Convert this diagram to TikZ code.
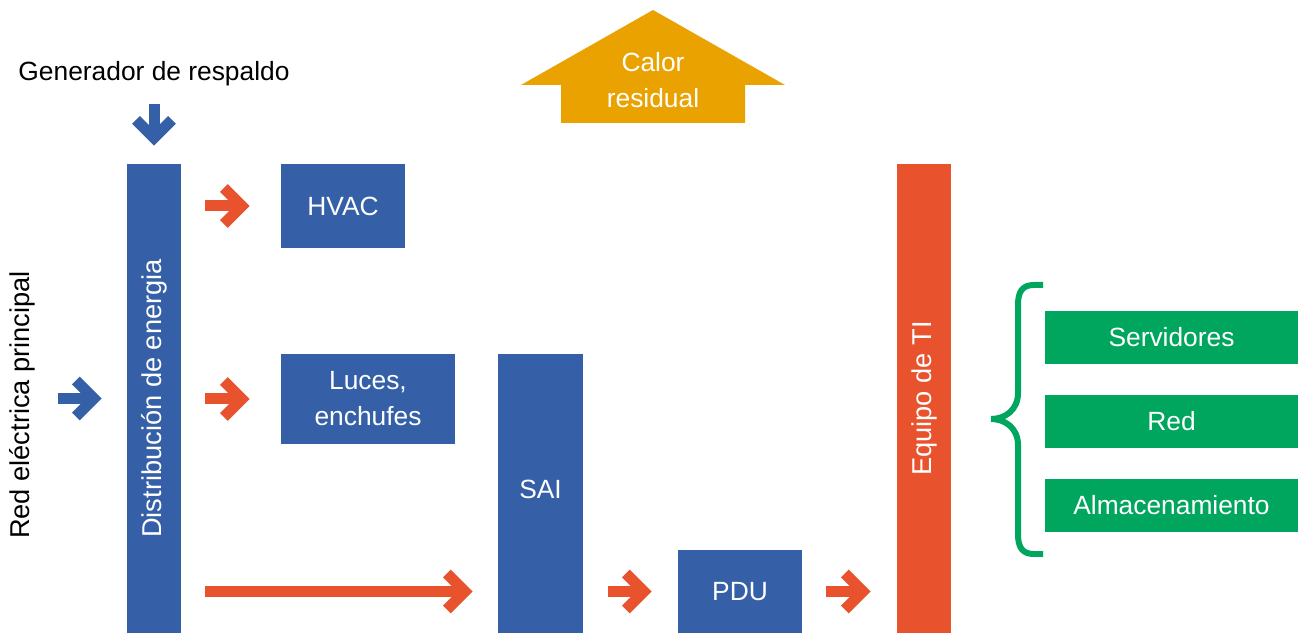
\documentclass[tikz,border=0pt]{standalone}
\usepackage{fontspec}
\setmainfont{Liberation Sans}
\usetikzlibrary{arrows.meta}
\definecolor{azul}{RGB}{53,96,168}
\definecolor{rojo}{RGB}{232,83,46}
\definecolor{oro}{RGB}{233,162,0}
\definecolor{verde}{RGB}{0,166,94}
\begin{document}
\begin{tikzpicture}[x=0.02cm,y=-0.02cm,
  caja/.style={fill=azul,text=white,inner sep=0pt,align=center,font=\fontsize{15}{20.5}\selectfont},
  rotulo/.style={font=\fontsize{15}{18}\selectfont},
  vertical/.style={rotate=90,text=white,font=\fontsize{15.5}{18}\selectfont},
  flecha/.style={line width=0.22cm,-{Straight Barb[length=0.36cm,width=0.72cm]}},
  llave/.style={verde,line width=0.12cm}]
\useasboundingbox (0,0) rectangle (1298,634);
% barras verticales
\node[caja,minimum width=1.08cm,minimum height=9.38cm] (dist) at (154,398.5) {};
\node[vertical] at (dist) {Distribución de energia};
\node[caja,fill=rojo,minimum width=1.08cm,minimum height=9.38cm] (ti) at (924,398.5) {};
\node[vertical] at (ti) {Equipo de TI};
% cajas azules
\node[caja,minimum width=2.48cm,minimum height=1.68cm] (hvac) at (343,206) {HVAC};
\node[caja,minimum width=3.48cm,minimum height=1.8cm] (luces) at (368,399) {Luces,\\enchufes};
\node[caja,minimum width=1.7cm,minimum height=5.58cm] (sai) at (540.5,493.5) {};
\node at (540.5,489) [text=white,font=\fontsize{15}{18}\selectfont] {SAI};
\node[caja,minimum width=2.48cm,minimum height=1.66cm] (pdu) at (740,591.5) {PDU};
% cajas verdes
\node[caja,fill=verde,minimum width=5.06cm,minimum height=1.06cm] (serv) at (1171.5,337.5) {Servidores};
\node[caja,fill=verde,minimum width=5.06cm,minimum height=1.06cm] (red) at (1171.5,421.5) {Red};
\node[caja,fill=verde,minimum width=5.06cm,minimum height=1.06cm] (alm) at (1171.5,505.5) {Almacenamiento};
% rotulos
\node[rotulo] (gen) at (154,74) {Generador de respaldo};
\node[rotulo,font=\fontsize{15.5}{18}\selectfont,rotate=90] (princ) at (22,405) {Red eléctrica principal};
% calor residual
\fill[oro] (653,10) -- (785,85) -- (745,85) -- (745,123) -- (561,123) -- (561,85) -- (521,85) -- cycle;
\node[text=white,align=center,font=\fontsize{15}{20.5}\selectfont] (calor) at (653,80) {Calor\\residual};
% flechas
\draw[flecha,azul,shorten <=0.24cm,shorten >=0.36cm] (gen) -- (gen |- dist.north);
\draw[flecha,azul,shorten <=0.34cm,shorten >=0.5cm] (princ.south |- dist.west) -- (dist.west);
\draw[flecha,rojo,shorten <=0.48cm,shorten >=0.62cm] (dist.east |- hvac.west) -- (hvac.west);
\draw[flecha,rojo,shorten <=0.48cm,shorten >=0.62cm] (dist.east |- luces.west) -- (luces.west);
\draw[flecha,rojo,shorten <=0.48cm,shorten >=0.5cm] (dist.east |- pdu.west) -- (sai.west |- pdu.west);
\draw[flecha,rojo,shorten <=0.5cm,shorten >=0.52cm] (sai.east |- pdu.west) -- (pdu.west);
\draw[flecha,rojo,shorten <=0.48cm,shorten >=0.52cm] (pdu.east) -- (ti.west |- pdu.east);
% llave
\draw[llave] (1043,285) -- (1034,285) .. controls (1022,285) and (1018,292) .. (1018,305) -- (1018,393)
  .. controls (1018,410) and (1005,419) .. (991,419) .. controls (1005,419) and (1018,428) .. (1018,445)
  -- (1018,534) .. controls (1018,547) and (1022,554) .. (1034,554) -- (1043,554);
\end{tikzpicture}
\end{document}
